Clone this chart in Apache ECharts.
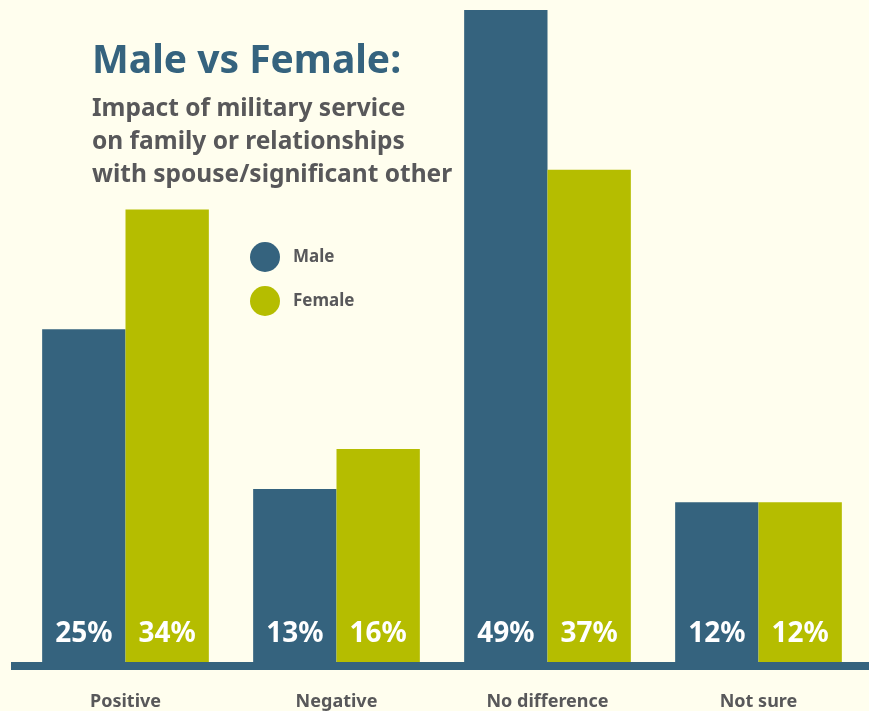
<!DOCTYPE html>
<html><head><meta charset="utf-8">
<script src="https://cdn.jsdelivr.net/npm/echarts@6/dist/echarts.min.js"></script>
<style>html,body{margin:0;padding:0;background:#fffeee;}#c{width:869px;height:711px;}</style>
</head><body><div id="c"></div>
<script>
const categories = ['Positive','Negative','No difference','Not sure'];
const maleValues = [25,13,49,12];
const femaleValues = [34,16,37,12];
const seriesNames = ['Male','Female'];

const FONT = '"Noto Sans"';
const BLUE = '#35637e', GREEN = '#b5bd00', GREY = '#58585a';
const chart = echarts.init(document.getElementById('c'));
const labelCfg = {show:true, position:'insideBottom', distance:14, color:'#fff', fontFamily:FONT, fontWeight:'bold', fontSize:28, formatter:p=>p.value+'%'};
chart.setOption({
  backgroundColor:'#fffeee',
  animation:false,
  title:{text:'Male vs Female:', subtext:'Impact of military service\non family or relationships\nwith spouse/significant other',
    left:87, top:37, itemGap:12,
    textStyle:{fontFamily:FONT, fontWeight:'bold', fontSize:39, color:BLUE},
    subtextStyle:{fontFamily:FONT, fontWeight:'bold', fontSize:24.5, color:GREY, lineHeight:33}},
  legend:{orient:'vertical', left:245, top:237, itemWidth:30, itemHeight:30, itemGap:14, icon:'circle',
    textStyle:{fontFamily:FONT, fontWeight:'bold', fontSize:17, color:GREY, padding:[0,0,0,8]},
    data:seriesNames},
  grid:{left:20, right:5, top:10, bottom:49},
  xAxis:{type:'category', data:categories, axisLine:{show:false}, axisTick:{show:false},
    axisLabel:{fontFamily:FONT, fontWeight:'bold', fontSize:18, color:GREY, margin:31}},
  yAxis:{type:'value', min:0, max:49, show:false, splitLine:{show:false}},
  series:[
    {name:seriesNames[0], type:'bar', data:maleValues, itemStyle:{color:BLUE}, barGap:'0%', barCategoryGap:'21%', label:labelCfg},
    {name:seriesNames[1], type:'bar', data:femaleValues, itemStyle:{color:GREEN}, barGap:'0%', barCategoryGap:'21%', label:labelCfg}
  ],
  graphic:[{type:'rect', shape:{x:11, y:662, width:858, height:8}, style:{fill:BLUE}, z:10}]
});
</script></body></html>
